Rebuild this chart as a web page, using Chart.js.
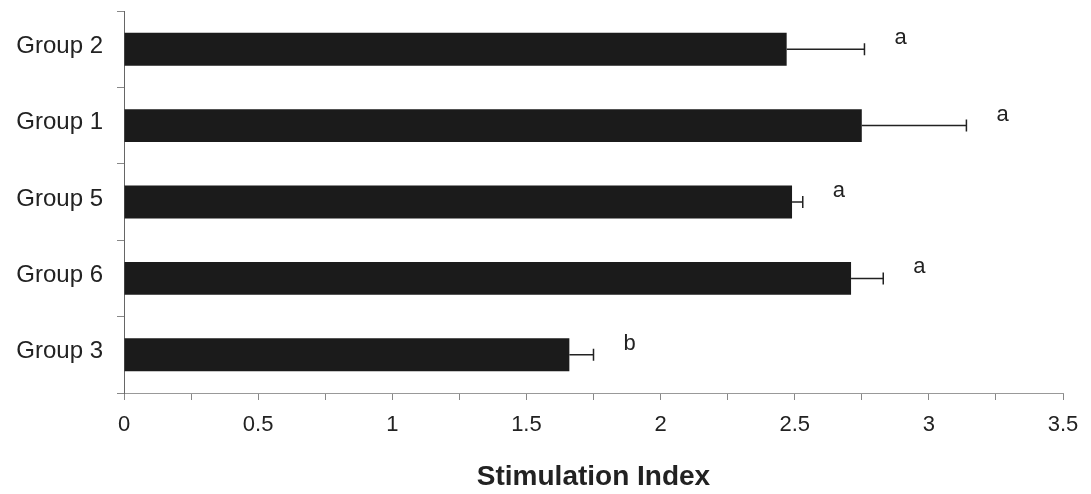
<!DOCTYPE html>
<html>
<head>
<meta charset="utf-8">
<script src="https://cdn.jsdelivr.net/npm/chart.js@4/dist/chart.umd.min.js"></script>
<style>
  html, body { margin: 0; padding: 0; background: #fff; }
  #wrap { width: 1091px; height: 494px; }
</style>
</head>
<body>
<div id="wrap"><canvas id="chart" width="1091" height="494"></canvas></div>
<script>
// values
const groups = ['Group 2', 'Group 1', 'Group 5', 'Group 6', 'Group 3'];
const stimIndex = [2.47, 2.75, 2.49, 2.71, 1.66];
const errors = [0.29, 0.39, 0.04, 0.12, 0.09];
const letters = ['a', 'a', 'a', 'a', 'b'];
const xLabels = [0, 0.5, 1, 1.5, 2, 2.5, 3, 3.5];

const textFont = '"Liberation Sans", Arial, sans-serif';

// error bars (right side only) plus the significance letters
const errorBarPlugin = {
    id: 'errorBars',
    afterDatasetsDraw(chart) {
        const ctx = chart.ctx;
        const xs = chart.scales.x;
        const meta = chart.getDatasetMeta(0);
        ctx.save();
        meta.data.forEach((bar, i) => {
            const x0 = xs.getPixelForValue(stimIndex[i]);
            const x1 = xs.getPixelForValue(stimIndex[i] + errors[i]);
            const y = bar.y;
            ctx.strokeStyle = '#222';
            ctx.lineWidth = 1.5;
            ctx.beginPath();
            ctx.moveTo(x0, y);
            ctx.lineTo(x1, y);
            ctx.moveTo(x1, y - 6);
            ctx.lineTo(x1, y + 6);
            ctx.stroke();

            ctx.fillStyle = '#222';
            ctx.font = '22px ' + textFont;
            ctx.textAlign = 'left';
            ctx.textBaseline = 'alphabetic';
            ctx.fillText(letters[i], x1 + 30, y - 5);
        });
        ctx.restore();
    }
};

new Chart(document.getElementById('chart').getContext('2d'), {
    type: 'bar',
    data: {
        labels: groups,
        datasets: [{
            data: stimIndex,
            backgroundColor: '#1b1b1b',
            borderWidth: 0,
            barPercentage: 0.43,
            categoryPercentage: 1.0
        }]
    },
    options: {
        indexAxis: 'y',
        responsive: false,
        animation: false,
        layout: { padding: { left: 0, right: 28, top: 11, bottom: 0 } },
        plugins: {
            legend: { display: false },
            tooltip: { enabled: false }
        },
        scales: {
            x: {
                min: 0,
                max: 3.5,
                border: { color: '#999', width: 1 },
                grid: {
                    drawOnChartArea: false,
                    drawTicks: true,
                    tickLength: 7,
                    color: '#888'
                },
                ticks: {
                    stepSize: 0.25,
                    autoSkip: false,
                    maxRotation: 0,
                    padding: 12,
                    color: '#222',
                    font: { family: textFont, size: 22 },
                    callback: function(value) {
                        return xLabels.includes(value) ? String(value) : '';
                    }
                },
                title: {
                    display: true,
                    text: 'Stimulation Index',
                    color: '#222',
                    font: { family: textFont, size: 28, weight: 'bold' },
                    padding: { top: 0, bottom: 0 }
                },
                afterFit(scale) {
                    scale.height = 101;
                    scale.paddingLeft = 0;
                    scale.paddingRight = 0;
                }
            },
            y: {
                border: { color: '#666', width: 1 },
                grid: {
                    drawOnChartArea: false,
                    drawTicks: true,
                    tickLength: 7,
                    color: '#888'
                },
                ticks: {
                    padding: 14,
                    labelOffset: -3,
                    color: '#222',
                    font: { family: textFont, size: 24 }
                },
                afterFit(scale) {
                    scale.width = 124;
                    scale.paddingTop = 0;
                    scale.paddingBottom = 0;
                }
            }
        }
    },
    plugins: [errorBarPlugin]
});
</script>
</body>
</html>
